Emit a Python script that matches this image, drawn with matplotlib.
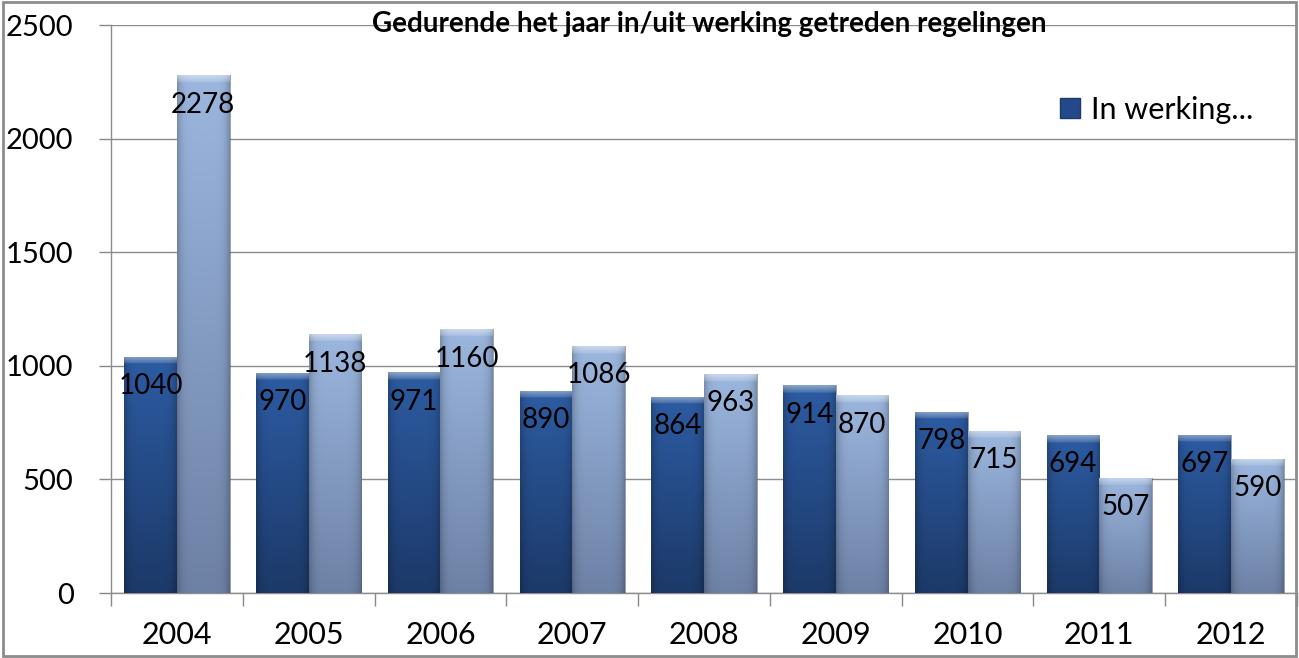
import matplotlib.pyplot as plt
import numpy as np
from matplotlib.colors import to_rgb
from matplotlib.patches import Patch, Rectangle

plt.rcParams['font.family'] = ['Lato', 'DejaVu Sans']

years = ['2004', '2005', '2006', '2007', '2008', '2009', '2010', '2011', '2012']
in_werking = [1040, 970, 971, 890, 864, 914, 798, 694, 697]
uit_werking = [2278, 1138, 1160, 1086, 963, 870, 715, 507, 590]

TITLE = "Gedurende het jaar in/uit werking getreden regelingen"
LEGEND_LABEL = "In werking..."

DARK_TOP, DARK_BOT = '#2d5ca3', '#1c3968'
LIGHT_TOP, LIGHT_BOT = '#9cb7df', '#6d81a5'


def shade_bar(ax, patch, c_top, c_bot):
    # vertical gradient, darker edges, light bevel on top
    x0, y0 = patch.get_x(), patch.get_y()
    w, h = patch.get_width(), patch.get_height()
    rows, cols = 300, 60
    t = np.linspace(0, 1, rows)[:, None]  # 0 top, 1 bottom
    top = np.array(to_rgb(c_top))
    bot = np.array(to_rgb(c_bot))
    img = top[None, None, :] * (1 - t[..., None]) + bot[None, None, :] * t[..., None]
    img = np.repeat(img, cols, axis=1)
    u = np.linspace(-1, 1, cols)
    edge = 1 - 0.22 * np.abs(u) ** 6
    img = img * edge[None, :, None]
    bevel = min(34.0 / h, 0.5)
    nb = max(int(bevel * rows), 1)
    for i in range(nb):
        k = 1 - i / nb
        img[i] = img[i] + (1 - img[i]) * (0.35 * k + 0.1)
    img = np.clip(img, 0, 1)
    im = ax.imshow(img, extent=[x0, x0 + w, y0, y0 + h], aspect='auto',
                   zorder=3, interpolation='bilinear')
    im.set_clip_path(patch)
    patch.set_facecolor('none')
    patch.set_edgecolor('#4a5a78')
    patch.set_linewidth(0.4)


fig = plt.figure(figsize=(12.99, 6.58), dpi=100)
ax = fig.add_axes([111 / 1299, 1 - 593 / 658, 1186 / 1299, 568 / 658])

x = np.arange(len(years))
w = 0.4
b1 = ax.bar(x - w / 2, in_werking, w, zorder=3, label=LEGEND_LABEL)
b2 = ax.bar(x + w / 2, uit_werking, w, zorder=3)

for p in b1.patches:
    shade_bar(ax, p, DARK_TOP, DARK_BOT)
for p in b2.patches:
    shade_bar(ax, p, LIGHT_TOP, LIGHT_BOT)

for bars, vals in ((b1, in_werking), (b2, uit_werking)):
    for p, v in zip(bars.patches, vals):
        ax.annotate(str(v), (p.get_x() + p.get_width() / 2, v),
                    xytext=(0, -21), textcoords='offset points',
                    ha='center', va='center', fontsize=20, zorder=5)

ax.set_xlim(-0.5, len(years) - 0.5)
ax.set_ylim(0, 2500)
ax.set_yticks(np.arange(0, 2501, 500))
ax.set_xticks(x)
ax.set_xticklabels(years)
ax.set_xticks(np.arange(-0.5, len(years)), minor=True)
ax.tick_params(axis='x', which='major', length=0, labelsize=22, pad=20)
ax.tick_params(axis='x', which='minor', length=9, color='#888888', width=1)
ax.tick_params(axis='y', length=9, color='#888888', width=1, labelsize=21, pad=18)
ax.yaxis.grid(True, color='#8c8c8c', linewidth=1, zorder=0)
ax.set_axisbelow(True)
for s in ('top', 'right'):
    ax.spines[s].set_visible(False)
for s in ('left', 'bottom'):
    ax.spines[s].set_color('#8c8c8c')
    ax.spines[s].set_linewidth(1)

fig.text(709 / 1299, 1 - 24 / 658, TITLE, ha='center', va='center',
         fontsize=20, fontweight='bold')

ax.legend(handles=[Patch(facecolor='#24498a', edgecolor='#1c3968')],
          labels=[LEGEND_LABEL], loc='center left',
          bbox_to_anchor=((1048 - 111) / 1186, (593 - 110) / 568),
          frameon=False, fontsize=22, handlelength=0.65, handleheight=0.65,
          handletextpad=0.35, borderaxespad=0)

fig.patches.append(Rectangle((0.002, 0.003), 0.996, 0.994, transform=fig.transFigure,
                             fill=False, edgecolor='#8c8c8c', linewidth=2))

fig.savefig('out.png', dpi=100)
